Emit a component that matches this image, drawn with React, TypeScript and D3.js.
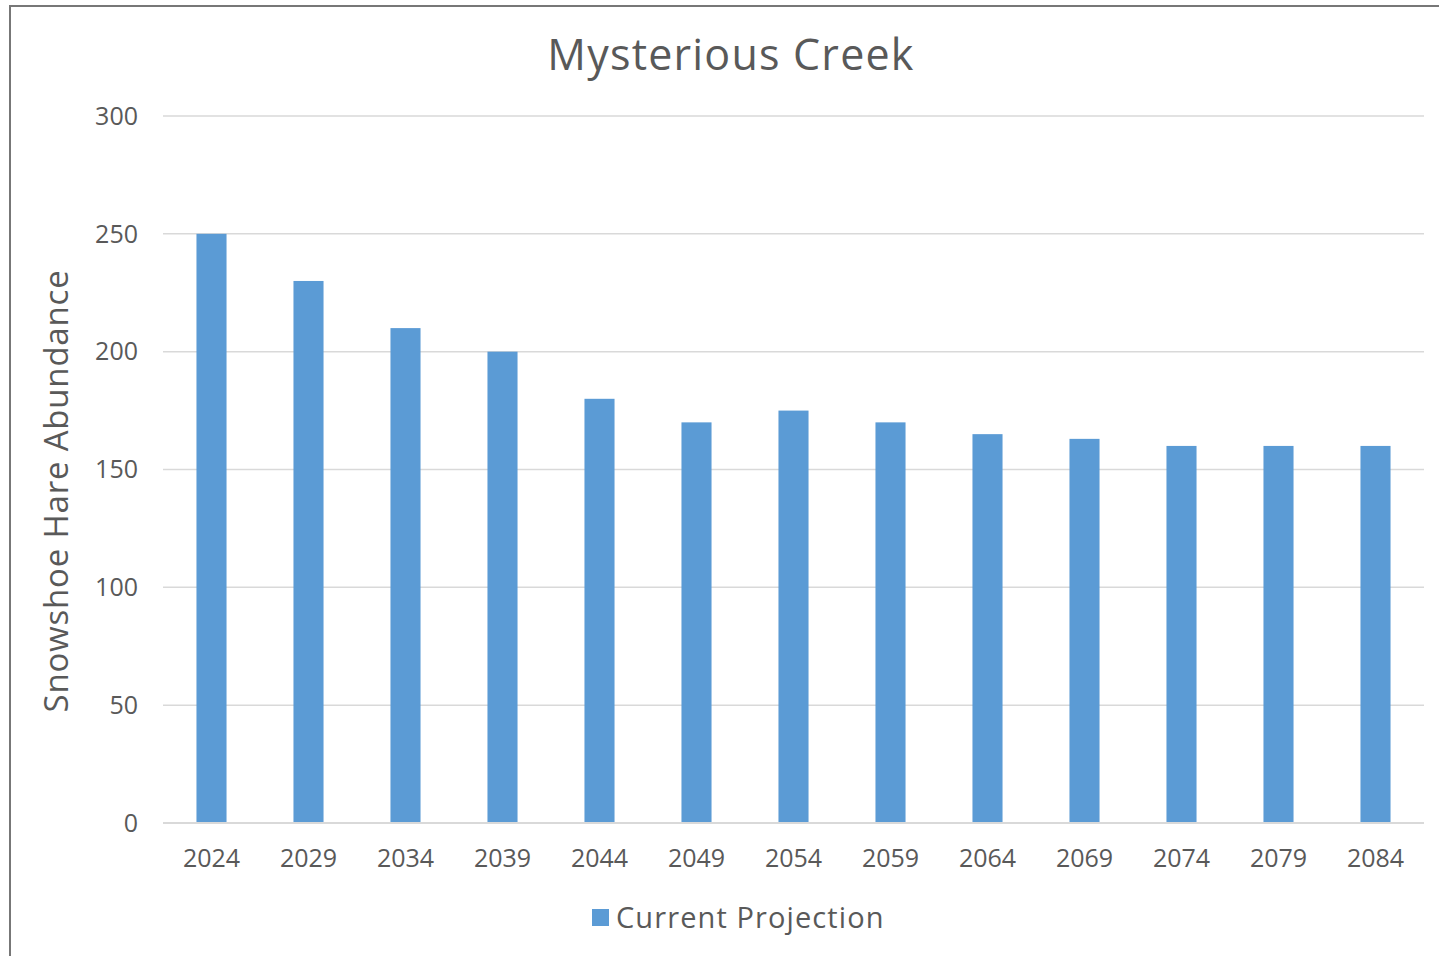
import React from "react";
import * as d3 from "d3";

const years = ["2024","2029","2034","2039","2044","2049","2054","2059","2064","2069","2074","2079","2084"];
const values = [250, 230, 210, 200, 180, 170, 175, 170, 165, 163, 160, 160, 160];
const yTicks = [0, 50, 100, 150, 200, 250, 300];
const seriesName = "Current Projection";
const title = "Mysterious Creek";
const yTitle = "Snowshoe Hare Abundance";

const W = 1439, H = 956;
const left = 163, right = 1424, top = 116, bottom = 823;
const font = "'Open Sans', sans-serif";
const textColor = "#595959";
const barColor = "#5b9bd5";

export default function App() {
  const x = d3.scaleBand().domain(years).range([left, right]).paddingInner(0.69).paddingOuter(0.345);
  const y = d3.scaleLinear().domain([0, 300]).range([bottom, top]);
  return (
    <svg width={W} height={H} style={{ position: "absolute", left: 0, top: 0, background: "#fff" }}>
      <rect x={10} y={6} width={W + 20} height={H + 20} fill="#fff" stroke="#777" strokeWidth={2} />
      <text x={731} y={70} textAnchor="middle" fontFamily={font} fontSize={43} letterSpacing={1.2} fill={textColor}>{title}</text>
      {yTicks.map(t => (
        <g key={t}>
          {t > 0 && <line x1={left} x2={right} y1={y(t)} y2={y(t)} stroke="#d9d9d9" strokeWidth={1.5} />}
          <text x={138} y={y(t)} dy="0.35em" textAnchor="end" fontFamily={font} fontSize={25} fill={textColor}>{t}</text>
        </g>
      ))}
      {years.map((yr, i) => (
        <rect key={yr} x={x(yr)} y={y(values[i])} width={x.bandwidth()} height={y(0) - y(values[i])} fill={barColor} />
      ))}
      <line x1={left} x2={right} y1={y(0)} y2={y(0)} stroke="#d9d9d9" strokeWidth={2} />
      {years.map(yr => (
        <text key={yr} x={(x(yr) as number) + x.bandwidth() / 2} y={858} dy="0.35em" textAnchor="middle" fontFamily={font} fontSize={25} fill={textColor}>{yr}</text>
      ))}
      <text transform={`translate(68,491) rotate(-90)`} textAnchor="middle" fontFamily={font} fontSize={33} letterSpacing={0.8} fill={textColor}>{yTitle}</text>
      <rect x={592} y={909} width={17} height={17} fill={barColor} />
      <text x={616} y={928} fontFamily={font} fontSize={29} letterSpacing={1.1} fill={textColor}>{seriesName}</text>
    </svg>
  );
}
